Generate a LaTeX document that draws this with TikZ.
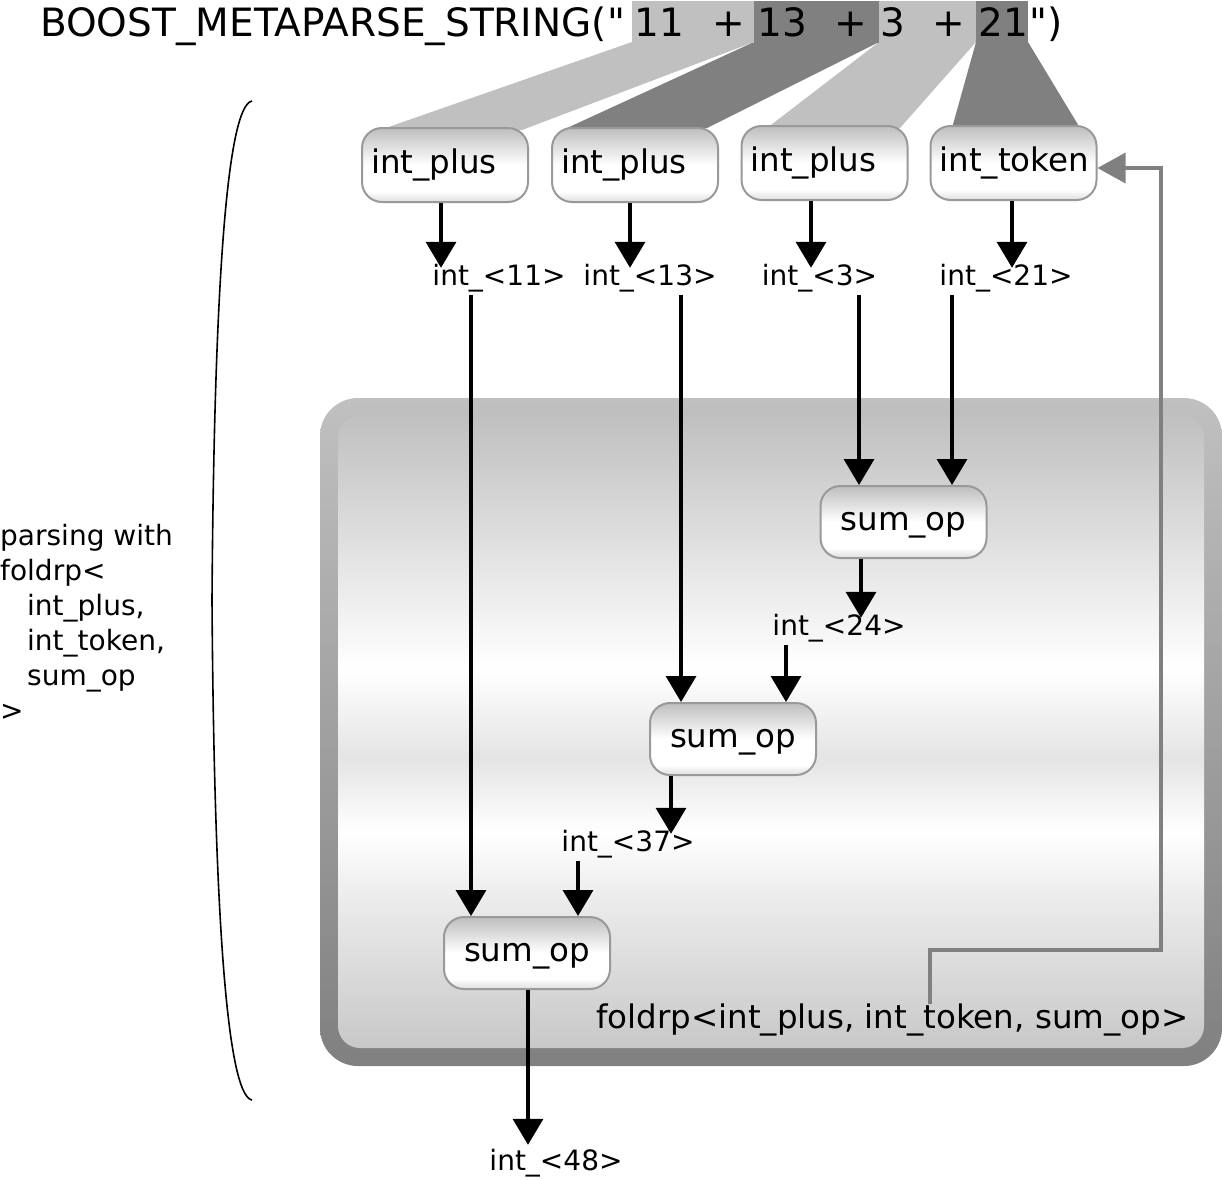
\documentclass[tikz,border=0pt]{standalone}
\usepackage{fontspec}
\setmainfont{DejaVu Sans}[Ligatures=TeXOff]
\usetikzlibrary{arrows.meta,calc}
\definecolor{lg}{HTML}{C0C0C0}
\definecolor{dg}{HTML}{808080}
\definecolor{bxline}{HTML}{999999}
\definecolor{bxt}{HTML}{BEBEBE}
\definecolor{bxb}{HTML}{DEDEDE}
\definecolor{ca}{HTML}{C8C8C8}
\definecolor{cb}{HTML}{D4D4D4}
\definecolor{cc}{HTML}{ECECEC}
\definecolor{cd}{HTML}{E4E4E4}
\pgfdeclareverticalshading{boxsh}{100bp}{color(0bp)=(bxb); color(25bp)=(bxb); color(32bp)=(white); color(50bp)=(white); color(75bp)=(bxt); color(100bp)=(bxt)}
\pgfdeclareverticalshading{innsh}{100bp}{color(0bp)=(ca); color(25bp)=(ca); color(29bp)=(cb); color(37bp)=(cc); color(42bp)=(white); color(48bp)=(cd); color(55bp)=(white); color(75bp)=(lg); color(100bp)=(lg)}
\pgfdeclareverticalshading{outsh}{100bp}{color(0bp)=(dg); color(25bp)=(dg); color(75bp)=(lg); color(100bp)=(lg)}
\tikzset{
  bx/.style={draw=bxline, line width=2pt, rounded corners=20pt, shading=boxsh,
    minimum width=166pt, minimum height=74pt, inner xsep=9pt, inner ysep=0pt,
    text width=148pt, align=left, font=\fontsize{32.5}{38}\selectfont,
    text height=24pt, text depth=8pt},
  sbx/.style={bx, align=center, minimum height=72pt},
  lab/.style={font=\fontsize{28}{34}\selectfont, inner sep=0pt, text height=17pt, text depth=10pt, anchor=base},
  arr/.style={line width=3.5pt, -{Triangle[length=26pt,width=30pt]}},
  garr/.style={line width=3.5pt, draw=dg, -{Triangle[length=28pt,width=30pt,fill=dg]}},
  ttl/.style={font=\fontsize{39}{46}\selectfont, inner sep=0pt, anchor=base},
}
\begin{document}
\begin{tikzpicture}[x=1pt,y=-1pt]
\useasboundingbox (0,0) rectangle (1222,1179);
% bands from string to parsers
\fill[lg] (632,42) -- (754,42) -- (522,130) -- (380,130) -- cycle;
\fill[dg] (754,42) -- (879,42) -- (707,128) -- (567,128) -- cycle;
\fill[lg] (879,42) -- (976,42) -- (900,128) -- (767,128) -- cycle;
\fill[dg] (976,42) -- (1028,42) -- (1080,128) -- (952,128) -- cycle;
\fill[lg] (632,1) rectangle (754,43);
\fill[dg] (754,1) rectangle (879,43);
\fill[lg] (879,1) rectangle (976,43);
\fill[dg] (976,1) rectangle (1028,43);
% title
\node[ttl, anchor=base west] (title) at (40,36) {BOOST\_METAPARSE\_STRING("};
\node[ttl] (t11) at (659.5,36) {11};
\node[ttl] (tp1) at (728.5,36) {+};
\node[ttl] (t13) at (782.5,36) {13};
\node[ttl] (tp2) at (850.5,36) {+};
\node[ttl] (t3) at (893,36) {3};
\node[ttl] (tp3) at (948.5,36) {+};
\node[ttl] (t21) at (1003.5,36) {21};
\node[ttl, anchor=base west] (tend) at (1029,36) {")};
% container
\path[shading=outsh, rounded corners=38pt] (320,398) rectangle (1222,1066);
\path[shading=innsh, rounded corners=22pt] (338,416) rectangle (1204,1048);
% parsers
\node[bx] (b1) at (445,165) {int\_plus};
\node[bx] (b2) at (635,165) {int\_plus};
\node[bx] (b3) at (824.5,163) {int\_plus};
\node[bx] (b4) at (1013.5,163) {int\_token};
\node[sbx] (sA) at (903.5,522) {sum\_op};
\node[sbx] (sB) at (733,739) {sum\_op};
\node[sbx] (sC) at (527,953) {sum\_op};
% labels
\node[lab] (l11) at (499,285) {int\_<11>};
\node[lab] (l13) at (650,285) {int\_<13>};
\node[lab] (l3) at (819.5,285) {int\_<3>};
\node[lab] (l21) at (1006,285) {int\_<21>};
\node[lab] (l24) at (839,635) {int\_<24>};
\node[lab] (l37) at (628,851) {int\_<37>};
\node[lab] (l48) at (556,1170) {int\_<48>};
\node[font=\fontsize{32.5}{38}\selectfont, inner sep=0pt, text height=24pt, text depth=8pt, anchor=base west] (fold) at (596,1028) {foldrp<int\_plus, int\_token, sum\_op>};
% columns
\coordinate (c441) at (441,0);
\coordinate (c630) at (630,0);
\coordinate (c811) at (811,0);
\coordinate (c1012) at (1012,0);
\coordinate (c471) at (471,0);
\coordinate (c681) at (681,0);
\coordinate (c859) at (859,0);
\coordinate (c952) at (952,0);
\coordinate (c861) at (861,0);
\coordinate (c786) at (786,0);
\coordinate (c671) at (671,0);
\coordinate (c578) at (578,0);
\coordinate (c528) at (528,0);
\coordinate (c930) at (930,0);
\coordinate (rc) at (1161,950);
% arrows
\draw[arr] (b1.south -| c441) -- (l11.north -| c441);
\draw[arr] (b2.south -| c630) -- (l13.north -| c630);
\draw[arr] (b3.south -| c811) -- (l3.north -| c811);
\draw[arr] (b4.south -| c1012) -- (l21.north -| c1012);
\draw[arr] (l11.south -| c471) -- (sC.north -| c471);
\draw[arr] (l13.south -| c681) -- (sB.north -| c681);
\draw[arr] (l3.south -| c859) -- (sA.north -| c859);
\draw[arr] (l21.south -| c952) -- (sA.north -| c952);
\draw[arr] (sA.south -| c861) -- (l24.north -| c861);
\draw[arr] (l24.south -| c786) -- (sB.north -| c786);
\draw[arr] (sB.south -| c671) -- (l37.north -| c671);
\draw[arr] (l37.south -| c578) -- (sC.north -| c578);
\draw[arr, shorten >=8pt] (sC.south -| c528) -- (l48.north -| c528);
% feedback
\draw[garr] (fold.north -| c930) |- (rc) |- ([yshift=-5pt]b4.east);
% brace
\draw[line width=1.6pt] (252,101) .. controls (226,106) and (214,300) .. (212,600) .. controls (214,900) and (226,1095) .. (252,1100);
% side text
\node[font=\fontsize{28}{35}\selectfont, inner sep=0pt, align=left, anchor=north west] (side) at (0,524)
  {parsing with\\foldrp<\\\hspace*{27pt}int\_plus,\\\hspace*{27pt}int\_token,\\\hspace*{27pt}sum\_op\\>};
\end{tikzpicture}
\end{document}
